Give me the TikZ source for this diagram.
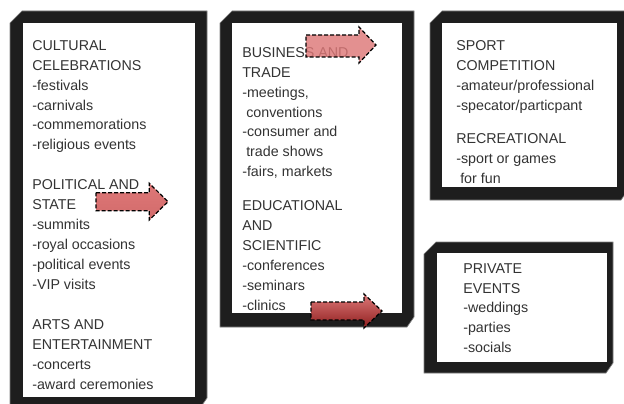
\documentclass[tikz,border=0pt]{standalone}
\usepackage{fontspec}
\setmainfont{Liberation Sans}
\definecolor{framegray}{HTML}{1E1E1E}
\definecolor{textgray}{HTML}{333333}
\definecolor{arrowpink}{HTML}{DE7878}
\definecolor{arrowdark}{HTML}{8E1E1E}
% outer x0 y0 x1 y1, then inner x0 y0 x1 y1
\newcommand\evframe[8]{%
  \draw[frame] (#1,#2+12)--(#1+12,#2)--(#3,#2)--(#3,#4-10)--(#3-7,#4)--(#1,#4)--cycle;
  \fill[white] (#5,#6) rectangle (#7,#8);}
\begin{document}
\begin{tikzpicture}[x=0.75pt,y=-0.75pt,
  frame/.style={fill=framegray,draw=gray,line width=0.5pt},
  evtext/.style={anchor=north west,inner sep=0pt,align=left,text=textgray,
    font=\fontsize{10.7}{14.95}\selectfont},
  evarrow/.style={draw=black,line width=0.9pt,dash pattern=on 3pt off 1.5pt,
    line join=miter}]
\clip (0,0) rectangle (624,403);
\fill[white] (0,0) rectangle (624,403);
% frames
\evframe{10}{11}{207}{408}{23}{23}{195}{397}
\evframe{220}{11}{414}{327}{232}{23}{402}{313}
\evframe{430}{11}{628}{200}{442}{23}{617}{187}
\evframe{424}{242}{613}{373}{437}{253}{607}{362}
% texts
\node[evtext] (cultural) at (32,40) {CULTURAL\\CELEBRATIONS\\-festivals\\-carnivals\\
  -commemorations\\-religious events\\[14.95pt]POLITICAL AND\\STATE\\-summits\\
  -royal occasions\\-political events\\-VIP visits\\[14.95pt]ARTS AND\\
  ENTERTAINMENT\\-concerts\\-award ceremonies};
\node[evtext] (business) at (242,47) {BUSINESS AND\\TRADE\\-meetings,\\
  \hspace*{3pt}conventions\\-consumer and\\\hspace*{3pt}trade shows\\-fairs, markets\\[10.5pt]
  EDUCATIONAL\\AND\\SCIENTIFIC\\-conferences\\-seminars\\-clinics};
\node[evtext] (sport) at (456,40) {SPORT\\COMPETITION\\-amateur/professional\\
  -specator/particpant\\[10.5pt]RECREATIONAL\\-sport or games\\\hspace*{3pt}for fun};
\node[evtext] (private) at (463,263) {PRIVATE\\EVENTS\\-weddings\\-parties\\-socials};
% arrows
\draw[evarrow,top color=arrowpink,bottom color=arrowpink!85!arrowdark]
  (96,192.7)--(149.3,192.7)--(149.3,183.3)--(168,201.7)--(149.3,220)--(149.3,210.7)--(96,210.7)--cycle;
\draw[evarrow,fill=arrowpink,fill opacity=0.82]
  (306,35)--(359,35)--(359,27)--(376,45)--(359,63)--(359,57)--(306,57)--cycle;
\draw[evarrow,top color=arrowpink,bottom color=arrowdark]
  (311,302)--(364,302)--(364,294)--(382,311)--(364,328)--(364,320)--(311,320)--cycle;
\end{tikzpicture}
\end{document}
